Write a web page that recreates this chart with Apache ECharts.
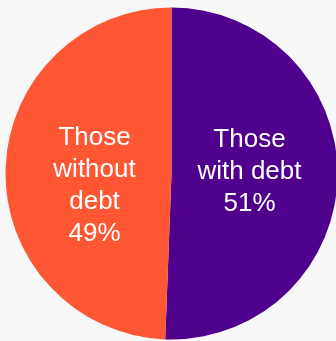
<!DOCTYPE html>
<html>
<head>
<meta charset="utf-8">
<script src="https://cdn.jsdelivr.net/npm/echarts@6/dist/echarts.min.js"></script>
<style>
html,body{margin:0;padding:0;background:#f7f7f7;}
#c{width:336px;height:341px;}
</style>
</head>
<body>
<div id="c"></div>
<script>
const categories = ['Those\nwith debt', 'Those\nwithout\ndebt'];
const values = [50.6, 49.4];
const colors = ['#4f008c', '#ff5733'];
const labelShift = [[-8, -3], [9, 14]];

const chart = echarts.init(document.getElementById('c'), null, {renderer: 'canvas'});
chart.setOption({
  backgroundColor: '#f7f7f7',
  animation: false,
  series: [{
    type: 'pie',
    center: [171.5, 173.5],
    radius: 166,
    startAngle: 90,
    clockwise: true,
    silent: true,
    data: categories.map((n, i) => ({name: n, value: values[i], itemStyle: {color: colors[i]}})),
    label: {
      show: true,
      position: 'inside',
      color: '#ffffff',
      fontFamily: 'Liberation Sans, Arial, sans-serif',
      fontSize: 26,
      lineHeight: 32,
      align: 'center',
      formatter: p => p.name + '\n' + Math.round(p.value) + '%'
    },
    labelLine: {show: false},
    labelLayout: p => ({dx: labelShift[p.dataIndex][0], dy: labelShift[p.dataIndex][1]}),
    itemStyle: {borderWidth: 0}
  }]
});
</script>
</body>
</html>
